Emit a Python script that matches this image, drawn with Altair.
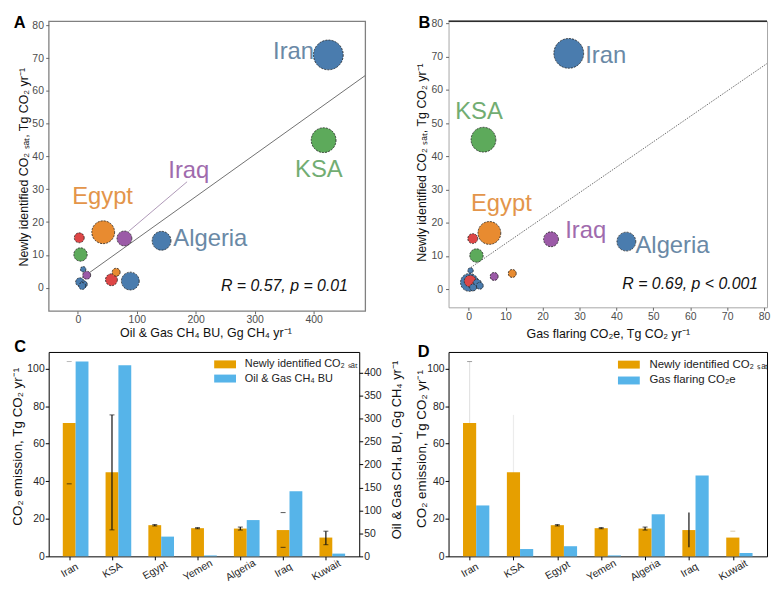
import json
import altair as alt
import pandas as pd

FONT = "Liberation Sans"

# ---------------- Panels A & B : bubble scatter ----------------
pt_group = ["blue", "green", "blue", "orange", "purple", "red", "green", "blue",
            "purple", "orange", "red", "blue", "blue", "blue", "blue"]
co2_sat = [71.0, 45.0, 14.3, 16.9, 15.0, 15.2, 10.1, 5.6, 3.8, 4.7, 2.4, 2.0, 1.7, 1.0, 0.5]
ch4_bu = [425, 417, 142, 43, 79, 2.4, 4.5, 9, 15, 65, 57, 89, 3.4, 10, 7.4]
flaring_pt = [27.1, 4.0, 42.7, 5.6, 22.3, 1.1, 2.1, 0.5, 6.9, 11.8, 0.4, 0.2, 2.3, 3.0, 1.2]
bubble_d = [30, 25, 19, 23, 15, 10, 13.5, 5.5, 8, 8, 12, 18, 8.5, 7, 7]

lab_names = ["Iran", "KSA", "Iraq", "Egypt", "Algeria"]
lab_group = ["blue", "green", "purple", "orange", "blue"]
labA_x = [366, 409, 188.2, 41.9, 224.7]
labA_y = [69.7, 33.8, 33.6, 25.4, 12.6]
labB_x = [37.1, 2.8, 31.7, 8.84, 55.2]
labB_y = [68.1, 51.1, 15.25, 23.4, 10.94]

fitA_x = [7.4, 487.5]
fitA_y = [3.0, 64.7]
fitB_x = [0.54, 80.8]
fitB_y = [6.46, 67.95]
segA_x = [86.3, 185.3]
segA_y = [17.2, 32.3]

statA = ["R = 0.57, p = 0.01"]
statA_x, statA_y = [350.5], [-1.15]
statB = ["R = 0.69, p < 0.001"]
statB_x, statB_y = [60.0], [0.0]

# ---------------- Panels C & D : bars ----------------
countries = ["Iran", "KSA", "Egypt", "Yemen", "Algeria", "Iraq", "Kuwait"]
sat_vals = [71.0, 44.8, 16.6, 15.0, 14.8, 14.0, 10.0]
ch4_vals = [424, 416, 43, 2, 79, 142, 6]
flare_vals = [27.1, 3.9, 5.4, 0.5, 22.4, 43.0, 1.8]
err_lo = [38.6, 14.1, 16.2, 14.7, 14.0, 4.8, 6.2]
err_hi = [103.7, 75.3, 16.9, 15.3, 15.6, 23.3, 13.4]

SAT_LAB = "Newly identified CO\u2082 \u209b\u2090\u209c"
BU_LAB = "Oil & Gas CH\u2084 BU"
FL_LAB = "Gas flaring CO\u2082e"

TITLE_SAT = "Newly identified CO\u2082 \u209b\u2090\u209c, Tg CO\u2082 yr\u207b\u00b9"
TITLE_BU = "Oil & Gas CH\u2084 BU, Gg CH\u2084 yr\u207b\u00b9"
TITLE_FL = "Gas flaring CO\u2082e, Tg CO\u2082 yr\u207b\u00b9"
TITLE_CO2 = "CO\u2082 emission, Tg CO\u2082 yr\u207b\u00b9"

# ---------------- styles ----------------
PALETTE = {"blue": "#4A7CAE", "green": "#5DAA5B", "orange": "#E88B30",
           "purple": "#9B5AA7", "red": "#DD4646"}
LABEL_PALETTE = {"blue": "#6A89A6", "green": "#72AD72", "orange": "#E3954A",
                 "purple": "#A06BAD"}
ORANGE, SKY = "#E69F00", "#56B4E9"

C_line = ["none", "#111", "#111", "#111", "#111", "none", "#111"]
C_top = ["#9a9a9a", "#111", "#111", "#111", "#111", "#111", "#111"]
C_bot = ["#111", "#111", "#111", "#111", "#111", "#111", "#111"]
D_line = ["#e3e3e3", "#ececec", "#111", "#111", "#111", "#111", "none"]
D_top = ["#777777", "none", "#111", "#111", "#111", "none", "#c9b38a"]
D_bot = ["none", "none", "#111", "#111", "#111", "none", "none"]

SC_AX = dict(labelFontSize=10.5, labelColor="#4d4d4d", tickColor="#666", tickSize=3,
             domain=False, grid=False, labelFlush=False, labelOverlap=False,
             titleFontSize=12.5, titleFontWeight="normal", titleColor="#111",
             titleBaseline="middle", titleAlign="center", labelFont=FONT, titleFont=FONT)
BAR_AX = dict(labelFontSize=10.5, labelColor="#262626", tickColor="#000", tickSize=3.5,
              domain=False, grid=False, labelFlush=False, labelOverlap=False,
              titleFontWeight="normal", titleColor="#111",
              titleBaseline="middle", titleAlign="center", labelFont=FONT, titleFont=FONT)
PATH = "M-2.75,-1L2.75,-1L2.75,1L-2.75,1Z"


def letter(ch, x, y):
    return alt.Chart(pd.DataFrame({"t": [ch]})).mark_text(
        font=FONT, fontSize=16.5, fontWeight="bold", align="left",
        baseline="alphabetic", color="#000").encode(
        x=alt.value(x), y=alt.value(y), text="t:N")


def scatter_panel(xvals_pts, labx, laby, fitx, fity, stat, statx, staty,
                  xdom, ydom, xaxis, yaxis, seg=None, line_dash=None):
    X = alt.X("xv:Q", scale=alt.Scale(domain=xdom, nice=False, zero=False), axis=xaxis)
    Y = alt.Y("yv:Q", scale=alt.Scale(domain=ydom, nice=False, zero=False), axis=yaxis)
    pts = pd.DataFrame({"grp": pt_group, "yv": co2_sat, "xv": xvals_pts, "d": bubble_d})
    pts["size"] = pts["d"] ** 2
    pts["fill"] = pts["grp"].map(PALETTE)
    pts = pts.sort_values("d", ascending=False)
    labs = pd.DataFrame({"name": lab_names, "xv": labx, "yv": laby,
                         "col": [LABEL_PALETTE[g] for g in lab_group]})
    fit = pd.DataFrame({"xv": fitx, "yv": fity})
    st = pd.DataFrame({"s": stat, "xv": statx, "yv": staty})
    line_kw = dict(color="#333", strokeWidth=0.7, clip=True)
    if line_dash:
        line_kw["strokeDash"] = line_dash
    layers = [alt.Chart(fit).mark_line(**line_kw).encode(x=X, y=Y)]
    if seg is not None:
        sd = pd.DataFrame({"xv": [seg[0][0]], "yv": [seg[1][0]],
                           "xv2": [seg[0][1]], "yv2": [seg[1][1]]})
        layers.append(alt.Chart(sd).mark_rule(color="#a58caf", strokeWidth=0.9).encode(
            x=X, y=Y, x2="xv2:Q", y2="yv2:Q"))
    layers.append(alt.Chart(labs).mark_text(font=FONT, fontSize=24, align="center",
                                            baseline="alphabetic").encode(
        x=X, y=Y, text="name:N", color=alt.Color("col:N", scale=None)))
    layers.append(alt.Chart(pts).mark_circle(opacity=1, stroke="#222", strokeWidth=0.8,
                                             strokeDash=[2, 1.2]).encode(
        x=X, y=Y, size=alt.Size("size:Q", scale=None), fill=alt.Fill("fill:N", scale=None)))
    layers.append(alt.Chart(st).mark_text(font=FONT, fontSize=16, fontStyle="italic",
                                          align="center", baseline="alphabetic",
                                          color="#111").encode(x=X, y=Y, text="s:N"))
    return layers


# ---- Panel A
axA_x = alt.Axis(values=[0, 100, 200, 300, 400], title=TITLE_BU, titleX=158, titleY=21.7,
                 labelPadding=1, **SC_AX)
axA_y = alt.Axis(values=list(range(0, 81, 10)), title=TITLE_SAT, titleX=-25.5, titleY=146.7,
                 titleAngle=270, labelPadding=2.3, **SC_AX)
A_layers = scatter_panel(ch4_bu, labA_x, labA_y, fitA_x, fitA_y, statA, statA_x, statA_y,
                         [-49.5, 487.5], [-7.1, 81.3], axA_x, axA_y,
                         seg=(segA_x, segA_y))
A = alt.layer(*A_layers, letter("A", -35.3, 6.7)).properties(
    width=319, height=292, view=alt.ViewBackground(stroke="#808080", strokeWidth=1.3))

# ---- Panel B
axB_x = alt.Axis(values=list(range(0, 81, 10)), title=TITLE_FL, titleX=160.5, titleY=26.3,
                 labelPadding=1.5, **SC_AX)
axB_y = alt.Axis(values=list(range(0, 81, 10)), title=TITLE_SAT, titleX=-27.7, titleY=142,
                 titleAngle=270, labelPadding=3, **SC_AX)
B_layers = scatter_panel(flaring_pt, labB_x, labB_y, fitB_x, fitB_y, statB, statB_x, statB_y,
                         [-5.46, 80.8], [-5.5, 80.7], axB_x, axB_y,
                         line_dash=[1.5, 1.2])
b_top = alt.Chart(pd.DataFrame({"k": [0]})).mark_rule(color="#000", strokeWidth=1.2).encode(
    x=alt.value(0), x2=alt.value(321), y=alt.value(0))
B = alt.layer(*B_layers, b_top, letter("B", -30.3, 6.7)).properties(
    width=321, height=288.4, view=alt.ViewBackground(stroke="#a6a6a6", strokeWidth=1))

# ---- bar helpers
label_expr = json.dumps(countries) + "[datum.value]"


def bar_x_axis():
    return alt.Axis(values=list(range(7)), labelExpr=label_expr, labelAngle=330,
                    labelAlign="center", labelBaseline="middle", labelPadding=10.2,
                    title=None, **BAR_AX)


XSC = alt.Scale(domain=[-0.48, 6.78], nice=False, zero=False)


def bar_df(vals, off, series):
    idx = list(range(7))
    return pd.DataFrame({"xs": [i + off - 0.15 for i in idx], "xe": [i + off + 0.15 for i in idx],
                         "v": vals, "v0": [0] * 7, "series": [series] * 7})


def err_parts(line_st, top_st, bot_st):
    front, back, caps = [], [], []
    for i in range(7):
        lc = line_st[i]
        if lc != "none":
            (front if lc == "#111" else back).append(
                {"xs": i, "v": err_lo[i], "v0": err_hi[i], "c": lc})
        if top_st[i] != "none":
            caps.append({"xs": i, "v": err_hi[i], "c": top_st[i]})
        if bot_st[i] != "none":
            caps.append({"xs": i, "v": err_lo[i], "c": bot_st[i]})
    return pd.DataFrame(front), pd.DataFrame(back), pd.DataFrame(caps)


def rules(df, X, Y):
    return alt.Chart(df).mark_rule(strokeWidth=1.2).encode(
        x=X, y=Y, y2="v0:Q", stroke=alt.Stroke("c:N", scale=None))


def capmarks(df, X, Y):
    return alt.Chart(df).mark_tick(orient="horizontal", size=5, thickness=1).encode(
        x=X, y=Y, fill=alt.Fill("c:N", scale=None))


def legend(lx, ly, loff, rowpad, fs):
    return alt.Legend(title=None, orient="none", legendX=lx, legendY=ly, symbolType=PATH,
                      symbolSize=64, symbolStrokeWidth=0, symbolOpacity=1, labelOffset=loff,
                      rowPadding=rowpad, padding=0, labelFontSize=fs, labelColor="#222",
                      labelFont=FONT, labelLimit=300)


# ---- Panel C
XC = alt.X("xs:Q", scale=XSC, axis=bar_x_axis())
axC_l = alt.Axis(values=[0, 20, 40, 60, 80, 100], title=TITLE_CO2, titleX=-31.3, titleY=95,
                 titleAngle=270, titleFontSize=13.5, labelPadding=1, **BAR_AX)
axC_r = alt.Axis(orient="right", values=list(range(0, 401, 50)), title=TITLE_BU, titleX=37.5,
                 titleY=98.3, titleAngle=270, titleFontSize=13, labelPadding=1, **BAR_AX)
YCl = alt.Y("v:Q", scale=alt.Scale(domain=[0, 108.8], nice=False, zero=False), axis=axC_l)
YCr = alt.Y("v:Q", scale=alt.Scale(domain=[0, 445], nice=False, zero=False), axis=axC_r)
colC = alt.Scale(domain=[SAT_LAB, BU_LAB], range=[ORANGE, SKY])
legC = legend(172.3, 7, 14.4, 2.3, 11)

c_front, c_back, c_caps = err_parts(C_line, C_top, C_bot)
c_orange = alt.Chart(bar_df(sat_vals, 0, SAT_LAB)).mark_rect().encode(
    x=XC, x2="xe:Q", y=YCl, y2="v0:Q", color=alt.Color("series:N", scale=colC, legend=legC))
c_blue = alt.Chart(bar_df(ch4_vals, 0.3, BU_LAB)).mark_rect().encode(
    x=XC, x2="xe:Q", y=YCr, y2="v0:Q", color=alt.Color("series:N", scale=colC, legend=legC))
c_left = alt.layer(c_orange, rules(c_front, XC, YCl), capmarks(c_caps, XC, YCl))
C = alt.layer(c_left, c_blue, letter("C", -34.7, 0)).resolve_scale(y="independent").properties(
    width=313, height=206, view=alt.ViewBackground(stroke="#000", strokeWidth=1))

# ---- Panel D
XD = alt.X("xs:Q", scale=XSC, axis=bar_x_axis())
axD_l = alt.Axis(values=[0, 20, 40, 60, 80, 100], title=TITLE_CO2, titleX=-27, titleY=97.3,
                 titleAngle=270, titleFontSize=13.5, labelPadding=1, **BAR_AX)
YD = alt.Y("v:Q", scale=alt.Scale(domain=[0, 108.8], nice=False, zero=False), axis=axD_l)
colD = alt.Scale(domain=[SAT_LAB, FL_LAB], range=[ORANGE, SKY])
legD = legend(176, 7, 15, 3, 11.5)

d_front, d_back, d_caps = err_parts(D_line, D_top, D_bot)
d_orange = alt.Chart(bar_df(sat_vals, 0, SAT_LAB)).mark_rect().encode(
    x=XD, x2="xe:Q", y=YD, y2="v0:Q", color=alt.Color("series:N", scale=colD, legend=legD))
d_blue = alt.Chart(bar_df(flare_vals, 0.3, FL_LAB)).mark_rect().encode(
    x=XD, x2="xe:Q", y=YD, y2="v0:Q", color=alt.Color("series:N", scale=colD, legend=legD))
D = alt.layer(rules(d_back, XD, YD), d_orange, d_blue, rules(d_front, XD, YD),
              capmarks(d_caps, XD, YD), letter("D", -31, 5)).properties(
    width=321, height=206, view=alt.ViewBackground(stroke="#000", strokeWidth=1))

chart = alt.concat(A, B, C, D, columns=2, spacing={"row": 41.4, "column": 84},
                   bounds="flush", align="each").resolve_scale(
    color="independent").properties(
    padding={"left": 2, "top": 4, "right": 0, "bottom": 0}).configure(font=FONT)

chart.save("out.html", embed_options={"renderer": "svg", "actions": False})
